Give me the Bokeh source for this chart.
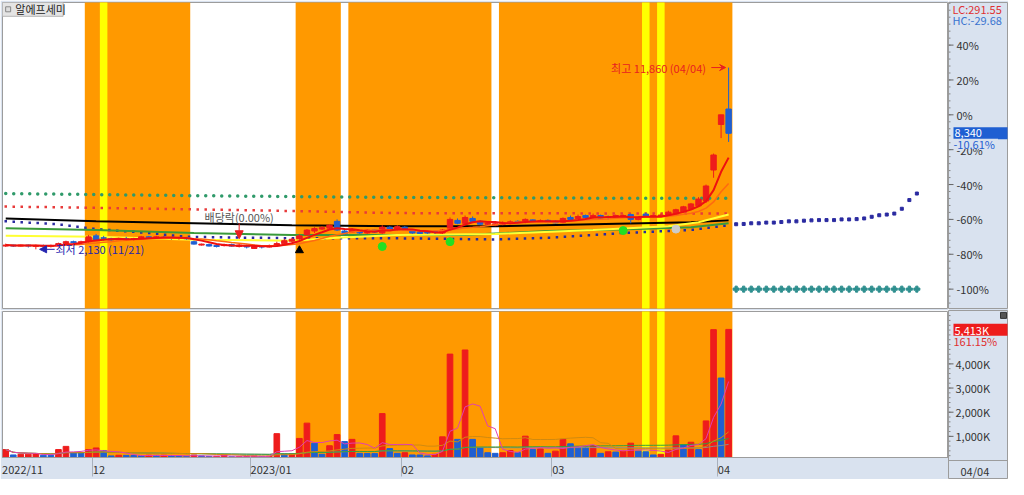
import pandas as pd
from bokeh.plotting import figure
from bokeh.layouts import column, row
from bokeh.models import (Range1d, LinearAxis, FixedTicker, Arrow,
                          NormalHead, VeeHead, ColumnDataSource)
from bokeh.core.properties import value
from bokeh.embed import file_html
from bokeh.resources import INLINE

FONT = "Noto Sans CJK KR"

# ---------------- data ----------------
stock_name = "알에프세미"
holidays = ["2022-12-30", "2023-01-23", "2023-01-24", "2023-03-01"]
dates = pd.bdate_range("2022-11-15", "2023-04-04", freq="C", holidays=holidays)

open_ = [2306, 2358, 2306, 2358, 2281, 2332, 2281, 2332, 2436, 2540,
         2488, 2540, 2851, 2747, 2695, 2643, 2695, 2669, 2695, 2799,
         2747, 2773, 2747, 2721, 2747, 2540, 2358, 2384, 2332, 2332,
         2384, 2281, 2332, 2177, 2281, 2255, 2332, 2436, 2567, 2695,
         2902, 3110, 3213, 3265, 3628, 3110, 3058, 3110, 3006, 3162,
         3006, 3317, 3162, 3317, 3162, 3058, 3058, 3084, 3006, 3265,
         3680, 3524, 3784, 3628, 3473, 3421, 3473, 3524, 3628, 3576,
         3706, 3602, 3680, 3628, 3576, 3835, 3784, 3939, 3835, 3939,
         3861, 3835, 3887, 3991, 3732, 4017, 3887, 3913, 3939, 4043,
         4146, 4302, 4457, 4717, 6375, 8811, 9640]
high = [2436, 2384, 2384, 2384, 2384, 2384, 2384, 2488, 2592, 2592,
        2592, 2902, 2954, 2851, 2747, 2747, 2799, 2747, 2851, 2851,
        2851, 2851, 2799, 2799, 2799, 2592, 2436, 2436, 2384, 2436,
        2436, 2436, 2384, 2332, 2332, 2384, 2540, 2695, 2747, 2954,
        3213, 3317, 3369, 3473, 3732, 3213, 3265, 3162, 3213, 3213,
        3421, 3369, 3421, 3369, 3213, 3110, 3110, 3110, 3213, 3835,
        3784, 3939, 3887, 3680, 3576, 3576, 3628, 3680, 3680, 3784,
        3732, 3732, 3732, 3680, 3835, 3939, 3991, 3991, 4043, 3991,
        3939, 3991, 3991, 4043, 3887, 4095, 3991, 4043, 4198, 4302,
        4457, 4613, 4924, 5598, 7256, 9330, 11860]
low = [2255, 2255, 2281, 2229, 2130, 2229, 2229, 2281, 2384, 2436,
       2436, 2488, 2592, 2592, 2592, 2592, 2592, 2592, 2643, 2695,
       2695, 2695, 2643, 2643, 2643, 2384, 2332, 2281, 2229, 2281,
       2281, 2229, 2177, 2150, 2177, 2229, 2281, 2384, 2488, 2643,
       2851, 3006, 3162, 3213, 3110, 2902, 3006, 2954, 2954, 3006,
       2954, 3110, 3110, 3110, 2954, 2954, 2954, 2954, 2954, 3213,
       3473, 3473, 3576, 3421, 3421, 3369, 3421, 3473, 3524, 3524,
       3576, 3576, 3524, 3524, 3524, 3680, 3732, 3784, 3784, 3784,
       3732, 3784, 3835, 3524, 3680, 3887, 3835, 3887, 3887, 3991,
       4095, 4250, 4406, 4613, 5960, 8085, 7878]
close = [2358, 2306, 2358, 2306, 2332, 2281, 2332, 2436, 2540, 2488,
         2540, 2799, 2643, 2721, 2643, 2695, 2669, 2695, 2799, 2747,
         2799, 2747, 2721, 2747, 2695, 2410, 2410, 2306, 2281, 2384,
         2306, 2358, 2255, 2281, 2255, 2332, 2436, 2592, 2669, 2851,
         3162, 3239, 3291, 3421, 3162, 2954, 3188, 3006, 3162, 3058,
         3317, 3162, 3343, 3162, 3006, 2980, 3006, 3032, 3162, 3732,
         3524, 3835, 3628, 3473, 3524, 3499, 3550, 3602, 3576, 3732,
         3628, 3654, 3576, 3550, 3784, 3732, 3887, 3835, 3939, 3810,
         3835, 3939, 3939, 3732, 3835, 3913, 3939, 3965, 4120, 4250,
         4406, 4561, 4820, 5520, 7180, 9330, 8340]
volume_k = [335, 108, 135, 140, 150, 95, 90, 335, 470, 200,
            190, 335, 403, 296, 67, 95, 90, 85, 70, 95,
            90, 95, 70, 65, 40, 108, 67, 45, 50, 108,
            30, 35, 40, 67, 50, 55, 1008, 150, 160, 806,
            1452, 605, 135, 497, 968, 672, 766, 175, 170, 165,
            1855, 376, 175, 202, 108, 105, 67, 135, 874, 4368,
            766, 4543, 766, 403, 202, 175, 202, 296, 202, 900,
            335, 363, 175, 269, 766, 578, 443, 440, 497, 175,
            242, 229, 269, 605, 269, 242, 108, 135, 309, 914,
            538, 645, 335, 1546, 5403, 3359, 5413]

# signal periods (day index, inclusive)
orange_periods = [(11, 24), (39, 44), (46, 64), (66, 96)]
yellow_days = [13, 85, 87]

# long moving averages (day index, price)
ma_yellow_days = [0, 12, 25, 38, 44, 52, 65, 78, 88, 92, 96]
ma_yellow = [2851, 2799, 2643, 2592, 2747, 2902, 2954, 3162, 3369, 3576, 3991]
ma_green_days = [0, 12, 25, 38, 52, 61, 72, 84, 91, 96]
ma_green = [3265, 3162, 3006, 2902, 2902, 2902, 3110, 3213, 3317, 3524]
ma_black_days = [0, 12, 25, 38, 52, 65, 78, 91, 96]
ma_black = [3784, 3628, 3524, 3421, 3369, 3369, 3473, 3576, 3680]

# dotted indicator lines
dot_green_days = [0, 25, 50, 75, 96]
dot_green = [5116, 5002, 4913, 4872, 4862]
dot_red_days = [0, 20, 38, 52, 96]
dot_red = [4421, 4302, 4183, 4069, 4043]
dot_blue_days = [0, 7, 12, 19, 24, 38, 52, 65, 72, 82, 91, 96]
dot_blue = [3628, 3473, 3213, 3006, 2799, 2721, 2721, 2659, 2747, 3006, 3162, 3421]
lead_blue = [3473, 3488, 3524, 3524, 3561, 3561, 3592, 3628, 3628, 3664,
             3680, 3695, 3695, 3695, 3732, 3732, 3747, 3784, 3872, 3955,
             3991, 4043, 4302, 4768, 5116]
lead_teal = [0, 0, 0, 0, 0, 0, 0, 0, 0, 0, 0, 0, 0, 0, 0, 0, 0, 0, 0, 0,
             0, 0, 0, 0, 0]

# signal markers
buy_days, buy_vals = [39], [2073]
green_sig_days, green_sig_vals = [50, 59, 82], [2281, 2540, 3136]
grey_sig_days, grey_sig_vals = [89], [3213]
exdiv_day = 31

pct_levels = [40, 20, 0, -20, -40, -60, -80, -100]
vol_levels = [1000, 2000, 3000, 4000]

# ---------------- styling / layout ----------------
RED = "#ee1c1c"
BLUE = "#1f5fd2"
ORANGE = "#ff9900"
YELLOW = "#ffff00"
PANEL = "#d9e2ef"
BORDER = "#9c9c9c"
MAIN_W = 948
AX_W = 60
X0, X1 = -0.43, 125.2
PX_PER_DAY = (MAIN_W - 2) / (X1 - X0)
P_TOP, P_BOT = 15342, -1037
V_TOP = 6169
H1, H2 = 310, 169

n = len(close)
xs = list(range(n))
base = close[-2]

xr = Range1d(X0, X1)

cand_col = [RED if c >= o else BLUE for o, c in zip(open_, close)]
vol_col = [RED] + [RED if volume_k[i] >= volume_k[i - 1] else BLUE for i in range(1, n)]

cs = pd.Series(close, dtype=float)
ma5 = cs.rolling(5, min_periods=1).mean().tolist()
ma10 = cs.rolling(10, min_periods=1).mean().tolist()
vs = pd.Series(volume_k, dtype=float)
vma5 = vs.rolling(5, min_periods=1).mean().tolist()
vma20 = vs.rolling(20, min_periods=1).mean().tolist()
vma60 = vs.rolling(60, min_periods=1).mean().tolist()
vma120 = vs.rolling(120, min_periods=1).mean().tolist()


def make_fig(width, height, x_range, y_range, left, right, top, bottom, bg="white"):
    f = figure(width=width, height=height, x_range=x_range, y_range=y_range,
               output_backend="svg", toolbar_location=None, tools="",
               x_axis_location=None, y_axis_location=None,
               min_border_left=left, min_border_right=right,
               min_border_top=top, min_border_bottom=bottom)
    f.background_fill_color = bg
    f.border_fill_color = PANEL
    f.outline_line_color = BORDER
    f.grid.visible = False
    return f


def bands(f, y0, y1):
    f.quad(left=[s - 0.5 for s, e in orange_periods], right=[e + 0.5 for s, e in orange_periods],
           bottom=y0, top=y1, fill_color=ORANGE, line_color=None)
    f.quad(left=[d - 0.5 for d in yellow_days], right=[d + 0.5 for d in yellow_days],
           bottom=y0, top=y1, fill_color=YELLOW, line_color=None)


def ptext(f, x, y, txt, color="#333333", size="11px", align="left"):
    f.text(x=[x], y=[y], text=[txt], text_align=align, text_baseline="middle",
           text_font=value(FONT), text_font_size=size, text_color=color)


# ---------------- price panel ----------------
p1 = make_fig(MAIN_W, H1, xr, Range1d(P_BOT, P_TOP), 2, 0, 2, 2)
bands(p1, P_BOT - 5000, P_TOP + 5000)

p1.line(dot_green_days, dot_green, line_color="#2f9a6a", line_width=3.5,
        line_dash="0 8", line_cap="round")
p1.line(dot_red_days, dot_red, line_color="#e83a3a", line_width=2.5,
        line_dash="0 8", line_cap="square")
p1.line(dot_blue_days, dot_blue, line_color="#2a2aa0", line_width=2.5,
        line_dash="0 8", line_cap="square")
lead_x = list(range(n, n + len(lead_blue)))
p1.scatter(lead_x, lead_blue, marker="square", size=3, color="#2a2aa0")
p1.scatter(lead_x, lead_teal, marker="plus", size=6, color="#2f8f8f")

p1.line(ma_black_days, ma_black, line_color="black", line_width=2)
p1.line(ma_green_days, ma_green, line_color="#3a9a3a", line_width=2)
p1.line(ma_yellow_days, ma_yellow, line_color="#ffff33", line_width=2)

src = ColumnDataSource(dict(x=xs, o=open_, h=high, l=low, c=close,
                            top=[max(a, b) for a, b in zip(open_, close)],
                            bot=[min(a, b) for a, b in zip(open_, close)],
                            col=cand_col))
p1.segment(x0="x", y0="l", x1="x", y1="h", color="col", line_width=1, source=src)
p1.vbar(x="x", width=0.72, top="top", bottom="bot", fill_color="col",
        line_color="col", source=src)

p1.line(xs, ma10, line_color="#ff6a10", line_width=1.5)
p1.line(xs, ma5, line_color="#ee1010", line_width=2)

p1.scatter(buy_days, buy_vals, marker="triangle", size=8, color="black")
p1.scatter(green_sig_days, green_sig_vals, marker="circle", size=8, color="#22e022")
p1.scatter(grey_sig_days, grey_sig_vals, marker="circle", size=8, color="#cccccc")

# ex-dividend mark
p1.add_layout(Arrow(x_start=exdiv_day, y_start=3524, x_end=exdiv_day, y_end=2695,
                    line_color="#e82020", line_width=1,
                    end=NormalHead(size=8, fill_color="#e82020", line_color="#e82020")))
ptext(p1, exdiv_day, 3835, "배당락(0.00%)", color="#555555", align="center")

# lowest / highest marks
i_lo = low.index(min(low))
i_hi = high.index(max(high))
p1.add_layout(Arrow(x_start=i_lo + 2.5, y_start=low[i_lo], x_end=i_lo + 0.5, y_end=low[i_lo],
                    line_color="#2424b0", line_width=1,
                    end=NormalHead(size=7, fill_color="#2424b0", line_color="#2424b0")))
ptext(p1, i_lo + 2.6, low[i_lo], f"최저 {low[i_lo]:,} ({dates[i_lo]:%m/%d})", color="#2424b0")
p1.add_layout(Arrow(x_start=i_hi - 2.3, y_start=high[i_hi], x_end=i_hi - 0.4, y_end=high[i_hi],
                    line_color="#e82020", line_width=1,
                    end=VeeHead(size=6, fill_color="#e82020", line_color="#e82020")))
ptext(p1, i_hi - 3.0, high[i_hi], f"최고 {high[i_hi]:,} ({dates[i_hi]:%m/%d})",
      color="#e82020", align="right")

# name tag
p1.rect(x=[X0 + 4.0], y=[14979], width=61, height=14, width_units="screen",
        height_units="screen", fill_color="#e4e4e4", line_color="#b4b4b4")
ptext(p1, X0 + 1.7, 14979, stock_name, color="#222222")
p1.scatter([X0 + 0.75], [14979], marker="square", size=5, fill_color="#dddddd",
           line_color="#888888")

# ---------------- price axis panel ----------------
a1 = make_fig(AX_W, H1, Range1d(0, AX_W), p1.y_range, 0, 0, 2, 2, bg=PANEL)
pct_ticks = [round(base * (1 + p / 100)) for p in pct_levels]
pct_minor = [round(base * (1 + p / 100)) for p in range(-108, 66, 4)]
a1.segment(x0=0, y0=pct_minor, x1=2, y1=pct_minor, line_color="#888888")
a1.segment(x0=0, y0=pct_ticks, x1=5, y1=pct_ticks, line_color="#666666")
a1.text(x=[8] * len(pct_ticks), y=pct_ticks, text=[f"{p}%" for p in pct_levels],
        text_align="left", text_baseline="middle", text_font=value(FONT),
        text_font_size="11px", text_color="#333333")

lc = (close[-1] / min(low) - 1) * 100
hc = (close[-1] / max(high) - 1) * 100
chg = (close[-1] / close[-2] - 1) * 100
ptext(a1, 4, 14979, f"LC:{lc:.2f}", color="#e03030")
ptext(a1, 4, 14410, f"HC:{hc:.2f}", color="#3a74d0")
a1.rect(x=[32], y=[close[-1]], width=54, height=12, height_units="screen",
        fill_color=BLUE, line_color=None)
ptext(a1, 6, close[-1], f"{close[-1]:,}", color="white")
a1.rect(x=[27], y=[7775], width=45, height=10, height_units="screen",
        fill_color=PANEL, line_color=None)
ptext(a1, 5, 7775, f"{chg:.2f}%", color=BLUE)

# ---------------- volume panel ----------------
p2 = make_fig(MAIN_W, H2, xr, Range1d(0, V_TOP), 2, 0, 1, 19)
bands(p2, -1000, V_TOP + 1000)
p2.vbar(x=xs, width=0.75, top=volume_k, bottom=0, fill_color=vol_col, line_color=vol_col)
p2.line(xs, vma120, line_color="#8c8c8c", line_width=1)
p2.line(xs, vma60, line_color="#3aa03a", line_width=1)
p2.line(xs, vma20, line_color="#d08a10", line_width=1)
p2.line(xs, vma5, line_color="#e040b0", line_width=1)

# date axis
month_idx = [0] + [i for i in range(1, n) if dates[i].month != dates[i - 1].month]
month_lbl = []
for k, i in enumerate(month_idx):
    d = dates[i]
    month_lbl.append(f"{d.year}/{d.month:02d}" if (k == 0 or d.month == 1) else f"{d.month:02d}")
seps = [i - 0.5 for i in month_idx]
lbl_pos = [round(s + (1 + 5.6 * len(t) / 2) / PX_PER_DAY, 3) for s, t in zip(seps, month_lbl)]
axb = LinearAxis(ticker=FixedTicker(ticks=lbl_pos, minor_ticks=seps[1:]),
                 major_label_overrides={p: t for p, t in zip(lbl_pos, month_lbl)})
axb.axis_line_color = BORDER
axb.major_tick_out = 0
axb.major_tick_in = 0
axb.minor_tick_in = 0
axb.minor_tick_out = 19
axb.minor_tick_line_color = "#a8b0bc"
axb.major_label_standoff = -16
axb.major_label_text_font_size = "11px"
axb.major_label_text_font = FONT
axb.major_label_text_color = "#333333"
p2.add_layout(axb, "below")

# ---------------- volume axis panel ----------------
UNIT = V_TOP / (H2 - 20)
a2 = make_fig(AX_W, H2, Range1d(0, AX_W), Range1d(-19 * UNIT, V_TOP + UNIT), 0, 0, 0, 0, bg=PANEL)
vol_minor = list(range(200, 6200, 200))
a2.segment(x0=0, y0=vol_minor, x1=2, y1=vol_minor, line_color="#888888")
a2.segment(x0=0, y0=vol_levels, x1=5, y1=vol_levels, line_color="#666666")
a2.text(x=[7] * len(vol_levels), y=vol_levels, text=[f"{v:,}K" for v in vol_levels],
        text_align="left", text_baseline="middle", text_font=value(FONT),
        text_font_size="11px", text_color="#333333")
a2.segment(x0=[0], y0=[0], x1=[AX_W], y1=[0], line_color=BORDER)
vchg = volume_k[-1] / volume_k[-2] * 100
a2.rect(x=[32], y=[volume_k[-1]], width=54, height=12, height_units="screen",
        fill_color=RED, line_color=None)
ptext(a2, 6, volume_k[-1], f"{volume_k[-1]:,}K", color="white")
ptext(a2, 5, 4940, f"{vchg:.2f}%", color="#e03030")
a2.rect(x=[55], y=[6008], width=6, height=6, width_units="screen", height_units="screen",
        fill_color="#555555", line_color="#333333")
ptext(a2, 12, -444, f"{dates[-1]:%m/%d}")

layout = row(column(p1, p2), column(a1, a2))
open("out.html", "w").write(file_html(layout, INLINE))
